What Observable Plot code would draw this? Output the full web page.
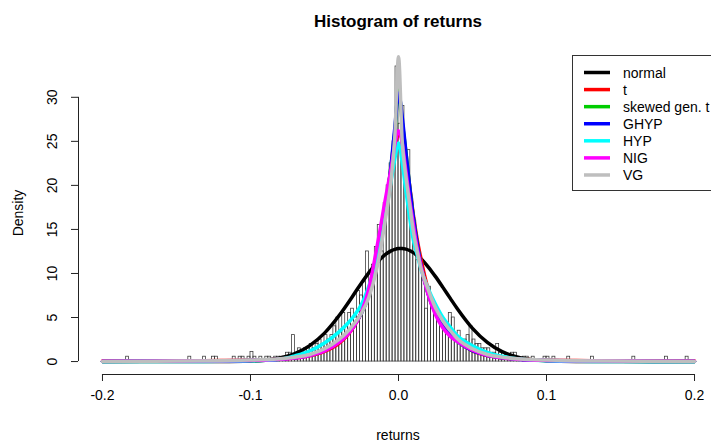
<!DOCTYPE html>
<html><head><meta charset="utf-8">
<script src="https://cdn.jsdelivr.net/npm/d3@7"></script>
<script src="https://cdn.jsdelivr.net/npm/@observablehq/plot@0.6"></script>
<style>body{margin:0;background:#fff} svg{font-family:"Liberation Sans",Arial,sans-serif}</style>
</head><body><div id="chart"></div>
<script>
// Histogram bins (left edge, density), bin width 0.002
const binWidth = 0.002;
const binLeft = [
 -0.184,-0.142,-0.132,-0.126,-0.124,-0.112,-0.108,-0.106,-0.102,-0.100,-0.098,-0.094,-0.090,-0.088,-0.084,-0.082,
 -0.080,-0.078,-0.076,-0.074,-0.072,-0.070,-0.068,-0.066,-0.064,-0.062,-0.060,-0.058,-0.056,-0.054,-0.052,-0.050,
 -0.048,-0.046,-0.044,-0.042,-0.040,-0.038,-0.036,-0.034,-0.032,-0.030,-0.028,-0.026,-0.024,-0.022,-0.020,-0.018,
 -0.016,-0.014,-0.012,-0.010,-0.008,-0.006,-0.004,-0.002,0.000,0.002,0.004,0.006,0.008,0.010,0.012,0.014,
 0.016,0.018,0.020,0.022,0.024,0.026,0.028,0.030,0.032,0.034,0.036,0.038,0.040,0.042,0.044,0.046,
 0.048,0.050,0.052,0.054,0.056,0.058,0.060,0.062,0.064,0.066,0.068,0.070,0.072,0.074,0.076,0.078,
 0.080,0.084,0.086,0.090,0.098,0.100,0.104,0.114,0.130,0.158,0.180,0.194
];
const binDensity = [
 0.55,0.55,0.55,0.55,0.55,0.55,0.55,0.55,0.55,1.1,0.55,0.55,0.55,0.55,0.55,0.55,
 0.55,0.55,1.0,1.0,3.0,1.0,1.5,1.0,1.5,1.5,2.0,1.5,2.0,2.5,2.0,3.0,
 2.5,3.0,4.0,5.0,3.5,5.5,4.0,5.5,6.0,5.0,8.0,7.5,9.0,12.5,8.5,11.0,
 13.0,15.5,12.5,18.0,20.0,22.5,25.0,33.5,27.0,29.0,22.0,24.0,18.5,16.0,11.5,12.0,
 9.5,6.0,8.5,7.0,6.5,5.0,4.5,3.5,4.0,5.5,5.0,3.0,3.5,2.0,2.5,3.0,
 4.0,2.5,2.0,2.0,1.5,1.5,1.5,1.0,1.0,2.0,1.0,1.0,0.55,0.55,1.0,1.0,
 0.55,0.55,0.55,0.55,0.55,0.55,0.55,0.55,0.55,0.55,0.55,0.55
];

// Fitted density curves, read at these returns
const gridX = [-0.2,-0.15,-0.12,-0.1,-0.09,-0.08,-0.07,-0.06,-0.05,-0.04,-0.035,-0.03,-0.025,-0.02,-0.015,-0.0125,-0.01,-0.0075,-0.005,-0.0025,
 0,0.0025,0.005,0.0075,0.01,0.0125,0.015,0.02,0.025,0.03,0.035,0.04,0.05,0.06,0.07,0.08,0.09,0.1,0.12,0.15,0.2];
const normalY = [0,0,0.01,0.06,0.16,0.4,0.9,1.81,3.23,5.25,6.43,7.67,8.92,10.1,11.15,11.6,12.0,12.32,12.57,12.74,
 12.83,12.84,12.77,12.61,12.37,12.06,11.7,10.76,9.64,8.42,7.17,5.94,3.77,2.17,1.12,0.52,0.22,0.08,0.01,0,0];
const tY = [0.05,0.08,0.12,0.16,0.2,0.27,0.4,0.65,1.15,2.1,2.9,4.0,5.6,8.0,11.6,13.8,16.3,19.0,21.9,24.4,
 25.8,25.3,23.0,20.0,16.7,14.0,11.8,8.2,5.8,4.2,3.1,2.3,1.2,0.68,0.42,0.28,0.2,0.16,0.12,0.08,0.05];
const sgtY = [0.02,0.04,0.08,0.13,0.18,0.27,0.42,0.7,1.25,2.3,3.05,4.1,5.5,7.6,10.8,13.0,15.6,18.8,22.3,26.0,
 30.8,27.2,23.8,19.9,16.4,13.5,11.1,7.7,5.5,4.0,3.0,2.25,1.25,0.72,0.43,0.27,0.18,0.13,0.07,0.03,0.01];
const ghypY = [0.02,0.04,0.08,0.13,0.18,0.27,0.42,0.7,1.25,2.3,3.05,4.1,5.5,7.6,10.8,13.0,15.6,18.8,22.3,26.5,
 30.5,27.8,23.8,19.9,16.4,13.5,11.1,7.7,5.5,4.0,3.0,2.25,1.25,0.72,0.43,0.27,0.18,0.13,0.07,0.03,0.01];
const hypY = [0,0.01,0.03,0.08,0.14,0.25,0.65,1.2,2.1,3.4,4.2,5.2,6.5,8.6,11.4,13.4,15.6,17.9,20.5,23.0,
 24.8,22.6,19.4,16.4,13.8,12.2,10.6,8.3,6.5,5.0,3.9,2.9,1.8,1.05,0.6,0.32,0.18,0.1,0.03,0.01,0];
const nigY = [0.04,0.06,0.09,0.13,0.17,0.25,0.4,0.68,1.2,2.2,2.95,4.0,5.6,8.3,12.6,14.9,17.4,19.7,21.9,24.6,
 26.2,24.8,21.6,18.4,15.6,13.0,11.0,7.6,5.3,3.8,2.85,2.25,1.3,0.72,0.42,0.26,0.17,0.13,0.09,0.06,0.04];
const vgY = [0.02,0.05,0.1,0.17,0.22,0.32,0.5,0.8,1.45,2.55,3.3,4.3,5.5,7.3,10.3,12.4,14.9,17.6,20.6,25.5,
 34.6,25.0,21.0,17.9,14.8,12.6,10.7,8.2,6.1,4.6,3.5,2.55,1.45,0.8,0.5,0.32,0.22,0.17,0.1,0.05,0.02];

const seriesNames = ["normal","t","skewed gen. t","GHYP","HYP","NIG","VG"];
const seriesColors = ["#000000","#FF0000","#00CD00","#0000FF","#00FFFF","#FF00FF","#BEBEBE"];
const seriesY = [normalY,tY,sgtY,ghypY,hypY,nigY,vgY];

const xTicks = [-0.2,-0.1,0,0.1,0.2];
const yTicks = [0,5,10,15,20,25,30];
const xDomain = [-0.2162, 0.2162];
const yDomain = [-1.47, 35.2];

const bins = binLeft.map((x0,i)=>({x1:x0, x2:x0+binWidth, y:binDensity[i]}));
const curves = seriesNames.map((name,k)=>({name, color:seriesColors[k],
  pts: gridX.map((x,i)=>({x, y: seriesY[k][i]}))}));

const svg = Plot.plot({
  width: 711, height: 442,
  marginLeft: 78, marginRight: -7, marginTop: 51, marginBottom: 68,
  x: {domain: xDomain},
  y: {domain: yDomain},
  style: {fontFamily: '"Liberation Sans",Arial,sans-serif', fontSize: "14px", background: "white", overflow: "visible", color: "#000"},
  marks: [
    Plot.rect(bins, {x1: "x1", x2: "x2", y1: 0, y2: "y", fill: "none", stroke: "#333", strokeWidth: 0.75}),
    ...curves.map(c => Plot.line(c.pts, {x: "x", y: "y", stroke: c.color, strokeWidth: 3.5, curve: "monotone-x"})),
    Plot.ruleY([yDomain[0]], {x1: xTicks[0], x2: xTicks[xTicks.length-1], stroke: "#222"}),
    Plot.ruleX([xDomain[0]], {y1: yTicks[0], y2: yTicks[yTicks.length-1], stroke: "#222"}),
    Plot.axisX({ticks: xTicks, tickSize: 7, tickPadding: 9, tickFormat: d => d.toFixed(1), label: null, fontSize: 14, stroke: "#222"}),
    Plot.axisY({ticks: yTicks, tickSize: 7, tickFormat: () => "", label: null, stroke: "#222"}),
    Plot.text(yTicks, {x: xDomain[0], y: d => d, text: d => String(d), rotate: -90, dx: -26, fontSize: 14})
  ]
});
document.getElementById("chart").appendChild(svg);

const s = d3.select(svg);
const xr = [78, 718];
const cx = (xr[0] + xr[1]) / 2;
s.append("text").attr("x", cx).attr("y", 21).attr("text-anchor", "middle").attr("dominant-baseline", "central")
  .attr("font-weight", "bold").attr("font-size", 17).text("Histogram of returns");
s.append("text").attr("x", cx).attr("y", 435).attr("text-anchor", "middle").attr("dominant-baseline", "central")
  .attr("font-size", 14).text("returns");
s.append("text").attr("transform", "translate(18,213) rotate(-90)").attr("text-anchor", "middle").attr("dominant-baseline", "central")
  .attr("font-size", 14).text("Density");

// legend
const lg = s.append("g");
lg.append("rect").attr("x", 572.5).attr("y", 55.5).attr("width", 160).attr("height", 135).attr("fill", "white").attr("stroke", "#333").attr("stroke-width", 1);
seriesNames.forEach((name, i) => {
  const y = 72.5 + i * 17.08;
  lg.append("line").attr("x1", 584).attr("x2", 610).attr("y1", y).attr("y2", y).attr("stroke", seriesColors[i]).attr("stroke-width", 3.5);
  lg.append("text").attr("x", 623).attr("y", y).attr("text-anchor", "start").attr("dominant-baseline", "central").attr("font-size", 14).text(name);
});
</script>
</body></html>
